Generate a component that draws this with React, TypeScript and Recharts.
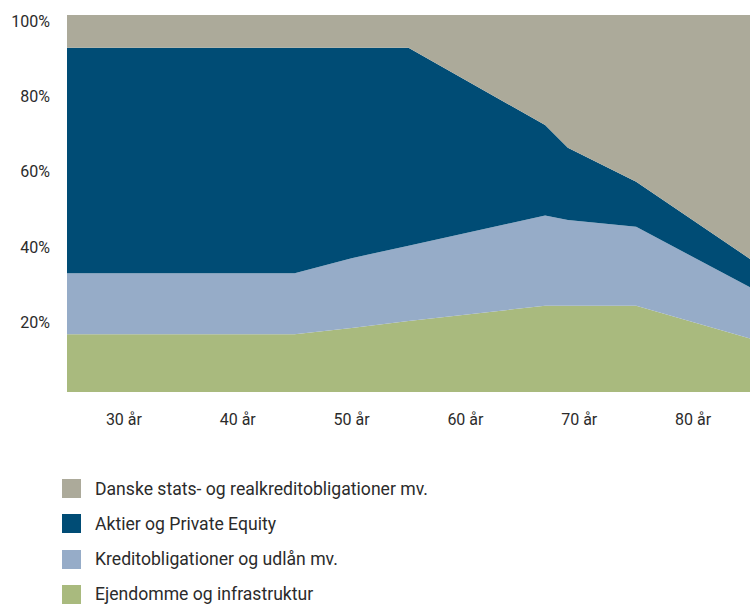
import React from "react";
import { AreaChart, Area, XAxis, YAxis } from "recharts";

// alder (år) og fordeling i procent
const AGES = [25, 45, 50, 55, 67, 69, 75, 85];
const EJENDOMME = [15.3, 15.3, 17.0, 18.8, 22.9, 22.9, 22.9, 14.2];
const KREDIT = [16.2, 16.2, 18.5, 20.0, 23.9, 22.7, 20.9, 13.6];
const AKTIER = [59.8, 59.8, 55.8, 52.5, 24.0, 19.2, 12.0, 7.5];
const DANSKE = [8.7, 8.7, 8.7, 8.7, 29.2, 35.2, 44.2, 64.7];

const X_TICKS = [30, 40, 50, 60, 70, 80];
const Y_TICKS = [20, 40, 60, 80, 100];

const SERIES = [
  { key: "danske", name: "Danske stats- og realkreditobligationer mv.", color: "#ACAA9A" },
  { key: "aktier", name: "Aktier og Private Equity", color: "#004C75" },
  { key: "kredit", name: "Kreditobligationer og udlån mv.", color: "#96ACC8" },
  { key: "ejendomme", name: "Ejendomme og infrastruktur", color: "#A9BA7E" },
];

const data = AGES.map((age, i) => ({
  age,
  ejendomme: EJENDOMME[i],
  kredit: KREDIT[i],
  aktier: AKTIER[i],
  danske: DANSKE[i],
}));

const FONT = "Roboto, sans-serif";
const TEXT = "#2b2b2b";

function YTick({ x, y, payload }: { x?: number; y?: number; payload?: { value: number } }) {
  return (
    <text x={(x ?? 0) - 17} y={(y ?? 0) + 6} textAnchor="end" dominantBaseline="central" fontSize={16} fill={TEXT} fontFamily={FONT}>
      {payload?.value}%
    </text>
  );
}

function XTick({ x, y, payload }: { x?: number; y?: number; payload?: { value: number } }) {
  return (
    <text x={x} y={(y ?? 0) + 25} textAnchor="middle" dominantBaseline="central" fontSize={16} fill={TEXT} fontFamily={FONT}>
      {payload?.value} år
    </text>
  );
}

export default function App() {
  return (
    <div style={{ position: "absolute", left: 0, top: 0, width: 750, height: 604, background: "#fff", fontFamily: FONT }}>
      <AreaChart width={750} height={440} data={data} margin={{ top: 15, right: 0, left: 0, bottom: 18 }}>
        <XAxis
          type="number"
          dataKey="age"
          domain={[25, 85]}
          ticks={X_TICKS}
          axisLine={false}
          tickLine={false}
          tickSize={0}
          tick={<XTick />}
          height={30}
        />
        <YAxis
          type="number"
          domain={[0, 100]}
          ticks={Y_TICKS}
          axisLine={false}
          tickLine={false}
          tickSize={0}
          tickMargin={0}
          width={67}
          tick={<YTick />}
          allowDataOverflow
        />
        {[...SERIES].reverse().map((s) => (
          <Area
            key={s.key}
            type="linear"
            dataKey={s.key}
            stackId="1"
            stroke="none"
            fill={s.color}
            fillOpacity={1}
            isAnimationActive={false}
            dot={false}
            activeDot={false}
          />
        ))}
      </AreaChart>
      <div style={{ position: "absolute", left: 62, top: 479 }}>
        {SERIES.map((s) => (
          <div key={s.key} style={{ display: "flex", alignItems: "center", height: 19, marginBottom: 16.3 }}>
            <span style={{ width: 19, height: 19, background: s.color, display: "inline-block", flexShrink: 0 }} />
            <span style={{ marginLeft: 14, fontSize: 17.6, color: TEXT, whiteSpace: "nowrap" }}>{s.name}</span>
          </div>
        ))}
      </div>
    </div>
  );
}
